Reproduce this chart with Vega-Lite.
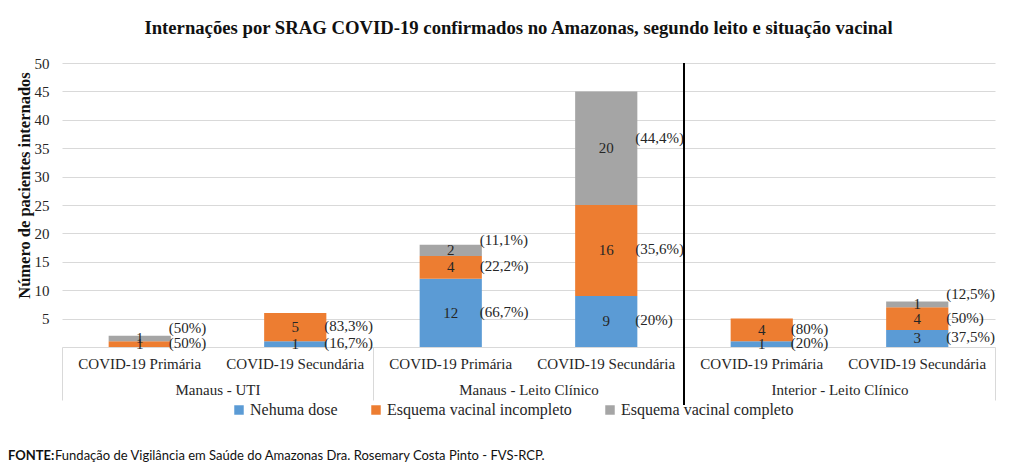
{
  "$schema": "https://vega.github.io/schema/vega-lite/v6.json",
  "background": "white",
  "padding": {"left": 8, "top": 19, "right": 22, "bottom": 2},
  "config": {
    "font": "Liberation Serif",
    "view": {"stroke": null},
    "axis": {"labelColor": "#262626", "labelFont": "Liberation Serif"},
    "axisY": {
      "titleFont": "Liberation Serif",
      "titleFontSize": 16.5,
      "titleFontWeight": "bold",
      "titleColor": "#111111",
      "titlePadding": 2,
      "titleY": 122,
      "labelOverlap": false,
      "labelFontSize": 15,
      "labelPadding": 13,
      "domain": false,
      "ticks": false,
      "grid": true,
      "gridColor": "#d9d9d9",
      "gridWidth": 1
    }
  },
  "spacing": 44,
  "vconcat": [
    {
      "width": 933,
      "height": 284,
      "title": {
        "text": "Internações por SRAG COVID-19 confirmados no Amazonas, segundo leito e situação vacinal",
        "font": "Liberation Serif",
        "fontSize": 18.7,
        "fontWeight": "bold",
        "color": "#111111",
        "anchor": "middle",
        "dx": -10,
        "offset": 18
      },
      "layer": [
        {
          "data": {
            "values": [
              {"bar": "Manaus - UTI|COVID-19 Primária", "status": "Nehuma dose", "ord": 1, "value": 0, "pct": ""},
              {"bar": "Manaus - UTI|COVID-19 Primária", "status": "Esquema vacinal incompleto", "ord": 2, "value": 1, "pct": "(50%)"},
              {"bar": "Manaus - UTI|COVID-19 Primária", "status": "Esquema vacinal completo", "ord": 3, "value": 1, "pct": "(50%)"},
              {"bar": "Manaus - UTI|COVID-19 Secundária", "status": "Nehuma dose", "ord": 1, "value": 1, "pct": "(16,7%)"},
              {"bar": "Manaus - UTI|COVID-19 Secundária", "status": "Esquema vacinal incompleto", "ord": 2, "value": 5, "pct": "(83,3%)"},
              {"bar": "Manaus - UTI|COVID-19 Secundária", "status": "Esquema vacinal completo", "ord": 3, "value": 0, "pct": ""},
              {"bar": "Manaus - Leito Clínico|COVID-19 Primária", "status": "Nehuma dose", "ord": 1, "value": 12, "pct": "(66,7%)"},
              {"bar": "Manaus - Leito Clínico|COVID-19 Primária", "status": "Esquema vacinal incompleto", "ord": 2, "value": 4, "pct": "(22,2%)"},
              {"bar": "Manaus - Leito Clínico|COVID-19 Primária", "status": "Esquema vacinal completo", "ord": 3, "value": 2, "pct": "(11,1%)"},
              {"bar": "Manaus - Leito Clínico|COVID-19 Secundária", "status": "Nehuma dose", "ord": 1, "value": 9, "pct": "(20%)"},
              {"bar": "Manaus - Leito Clínico|COVID-19 Secundária", "status": "Esquema vacinal incompleto", "ord": 2, "value": 16, "pct": "(35,6%)"},
              {"bar": "Manaus - Leito Clínico|COVID-19 Secundária", "status": "Esquema vacinal completo", "ord": 3, "value": 20, "pct": "(44,4%)"},
              {"bar": "Interior - Leito Clínico|COVID-19 Primária", "status": "Nehuma dose", "ord": 1, "value": 1, "pct": "(20%)"},
              {"bar": "Interior - Leito Clínico|COVID-19 Primária", "status": "Esquema vacinal incompleto", "ord": 2, "value": 4, "pct": "(80%)"},
              {"bar": "Interior - Leito Clínico|COVID-19 Primária", "status": "Esquema vacinal completo", "ord": 3, "value": 0, "pct": ""},
              {"bar": "Interior - Leito Clínico|COVID-19 Secundária", "status": "Nehuma dose", "ord": 1, "value": 3, "pct": "(37,5%)"},
              {"bar": "Interior - Leito Clínico|COVID-19 Secundária", "status": "Esquema vacinal incompleto", "ord": 2, "value": 4, "pct": "(50%)"},
              {"bar": "Interior - Leito Clínico|COVID-19 Secundária", "status": "Esquema vacinal completo", "ord": 3, "value": 1, "pct": "(12,5%)"}
            ]
          },
          "encoding": {
            "x": {
              "field": "bar",
              "type": "nominal",
              "sort": null,
              "scale": {
                "domain": [
                  "Manaus - UTI|COVID-19 Primária",
                  "Manaus - UTI|COVID-19 Secundária",
                  "Manaus - Leito Clínico|COVID-19 Primária",
                  "Manaus - Leito Clínico|COVID-19 Secundária",
                  "Interior - Leito Clínico|COVID-19 Primária",
                  "Interior - Leito Clínico|COVID-19 Secundária"
                ],
                "paddingInner": 0.6,
                "paddingOuter": 0.3
              },
              "axis": {
                "orient": "bottom",
                "title": null,
                "labelExpr": "split(datum.value, '|')[1]",
                "labelAngle": 0,
                "labelFontSize": 15,
                "labelPadding": 9,
                "ticks": false,
                "domain": true,
                "domainColor": "#d9d9d9",
                "domainWidth": 1,
                "grid": false
              }
            }
          },
          "layer": [
            {
              "mark": {"type": "bar"},
              "encoding": {
                "y": {
                  "field": "value",
                  "type": "quantitative",
                  "stack": "zero",
                  "scale": {"domain": [0, 50], "nice": false},
                  "axis": {"title": "Número de pacientes internados", "values": [5, 10, 15, 20, 25, 30, 35, 40, 45, 50]}
                },
                "color": {
                  "field": "status",
                  "type": "nominal",
                  "scale": {
                    "domain": ["Nehuma dose", "Esquema vacinal incompleto", "Esquema vacinal completo"],
                    "range": ["#5B9BD5", "#ED7D31", "#A5A5A5"]
                  },
                  "legend": {
                    "orient": "none",
                    "legendX": 169,
                    "legendY": 339,
                    "direction": "horizontal",
                    "title": null,
                    "symbolType": "square",
                    "symbolSize": 90,
                    "symbolStrokeWidth": 0,
                    "labelFont": "Liberation Serif",
                    "labelFontSize": 16,
                    "labelColor": "#262626",
                    "labelLimit": 0,
                    "columnPadding": 30,
                    "labelOffset": 3
                  }
                },
                "order": {"field": "ord", "type": "quantitative"}
              }
            },
            {
              "transform": [
                {"filter": "datum.value > 0"},
                {"stack": "value", "groupby": ["bar"], "sort": [{"field": "ord"}], "as": ["v0", "v1"]},
                {"calculate": "(datum.v0 + datum.v1) / 2", "as": "mid"}
              ],
              "mark": {"type": "text", "fontSize": 15, "color": "#262626", "baseline": "middle"},
              "encoding": {
                "y": {"field": "mid", "type": "quantitative", "axis": {"title": "Número de pacientes internados", "values": [5, 10, 15, 20, 25, 30, 35, 40, 45, 50]}},
                "text": {"field": "value", "type": "quantitative"}
              }
            },
            {
              "transform": [
                {"filter": "datum.value > 0 && datum.ord < 3"},
                {"stack": "value", "groupby": ["bar"], "sort": [{"field": "ord"}], "as": ["v0", "v1"]},
                {"calculate": "(datum.v0 + datum.v1) / 2", "as": "mid"}
              ],
              "mark": {"type": "text", "fontSize": 15, "color": "#262626", "align": "left", "baseline": "middle", "dx": 29, "dy": -1},
              "encoding": {
                "y": {"field": "mid", "type": "quantitative", "axis": {"title": "Número de pacientes internados", "values": [5, 10, 15, 20, 25, 30, 35, 40, 45, 50]}},
                "text": {"field": "pct", "type": "nominal"}
              }
            },
            {
              "transform": [
                {"filter": "datum.value > 0"},
                {"stack": "value", "groupby": ["bar"], "sort": [{"field": "ord"}], "as": ["v0", "v1"]},
                {"calculate": "(datum.v0 + datum.v1) / 2", "as": "mid"},
                {"filter": "datum.ord == 3"}
              ],
              "mark": {"type": "text", "fontSize": 15, "color": "#262626", "align": "left", "baseline": "middle", "dx": 29, "dy": -10},
              "encoding": {
                "y": {"field": "mid", "type": "quantitative", "axis": {"title": "Número de pacientes internados", "values": [5, 10, 15, 20, 25, 30, 35, 40, 45, 50]}},
                "text": {"field": "pct", "type": "nominal"}
              }
            }
          ]
        },
        {
          "data": {
            "values": [
              {"group": "Manaus - UTI"},
              {"group": "Manaus - Leito Clínico"},
              {"group": "Interior - Leito Clínico"}
            ]
          },
          "transform": [{"filter": "datum.group === 'Interior - Leito Clínico'"}],
          "mark": {"type": "rule", "color": "#000000", "strokeWidth": 2},
          "encoding": {
            "x": {
              "field": "group",
              "type": "nominal",
              "bandPosition": 0,
              "scale": {
                "domain": ["Manaus - UTI", "Manaus - Leito Clínico", "Interior - Leito Clínico"],
                "paddingInner": 0,
                "paddingOuter": 0
              },
              "axis": {
                "orient": "bottom",
                "title": null,
                "domain": false,
                "ticks": true,
                "tickBand": "extent",
                "tickSize": 53,
                "tickColor": "#d9d9d9",
                "tickWidth": 1,
                "labelPadding": -18,
                "labelFontSize": 15,
                "labelAngle": 0,
                "grid": false,
                "offset": 0
              }
            },
            "y": {"datum": 50, "type": "quantitative", "axis": {"title": "Número de pacientes internados", "values": [5, 10, 15, 20, 25, 30, 35, 40, 45, 50]}},
            "y2": {"datum": -10.2}
          }
        }
      ],
      "resolve": {"scale": {"x": "independent"}, "axis": {"x": "independent"}}
    },
    {
      "width": 933,
      "height": 10,
      "layer": [
        {
          "data": {"values": [{"t": "FONTE:"}]},
          "mark": {"type": "text", "font": "Lato", "fontSize": 13, "fontWeight": "bold", "color": "#111111", "align": "left", "baseline": "middle", "dx": -54},
          "encoding": {
            "x": {"datum": 0, "type": "quantitative", "scale": {"domain": [0, 1]}, "axis": null},
            "text": {"field": "t", "type": "nominal"}
          }
        },
        {
          "data": {"values": [{"t": "Fundação de Vigilância em Saúde do Amazonas Dra. Rosemary Costa Pinto - FVS-RCP."}]},
          "mark": {"type": "text", "font": "Lato", "fontSize": 13, "color": "#111111", "align": "left", "baseline": "middle", "dx": -7},
          "encoding": {
            "x": {"datum": 0, "type": "quantitative", "scale": {"domain": [0, 1]}, "axis": null},
            "text": {"field": "t", "type": "nominal"}
          }
        }
      ]
    }
  ]
}
